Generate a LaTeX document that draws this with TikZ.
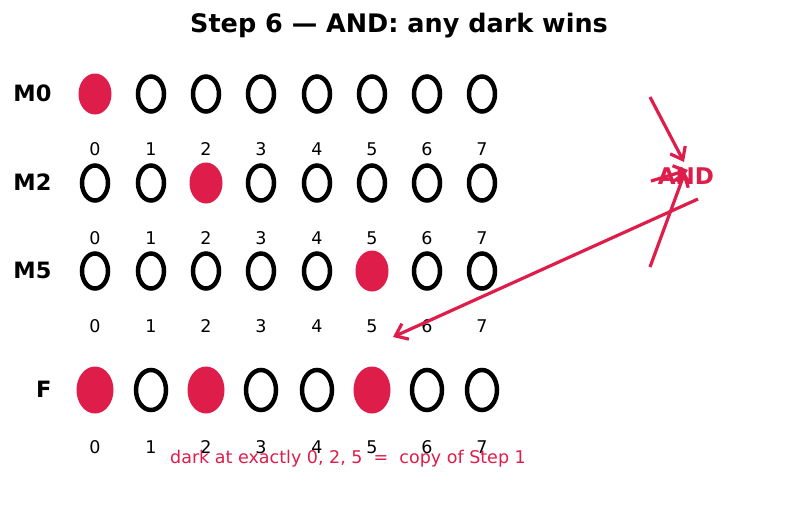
\documentclass[tikz,border=0pt]{standalone}
\usepackage{fontspec}
\setmainfont{DejaVu Sans}
\usetikzlibrary{arrows.meta,shapes.geometric}
\definecolor{crim}{RGB}{222,29,74}
\begin{document}
\begin{tikzpicture}[x=1pt,y=-1pt,
  dot/.style={ellipse,draw=black,line width=4.5pt,minimum width=26pt,minimum height=35pt,inner sep=0pt},
  dotfill/.style={ellipse,fill=crim,minimum width=33pt,minimum height=41pt,inner sep=0pt},
  bdotfill/.style={ellipse,fill=crim,minimum width=37pt,minimum height=47pt,inner sep=0pt},
  num/.style={font=\fontsize{17.5}{20}\selectfont},
  rowlab/.style={font=\bfseries\fontsize{22.5}{26}\selectfont,anchor=east},
  arr/.style={draw=crim,line width=3.2pt,-{Straight Barb[length=11pt,width=17pt,line width=3.2pt]}}]
\useasboundingbox (0,0) rectangle (792,512);
\node[font=\bfseries\fontsize{25.5}{30}\selectfont] (title) at (399,26) {Step 6 — AND: any dark wins};
% rows
\foreach \r/\y/\d/\lab in {0/94/0/M0,1/183/2/M2,2/271/5/M5}{
  \node[rowlab] (lab\r) at (55,\y-1) {\lab};
  \foreach \i/\x in {0/95,1/151,2/206,3/261,4/317,5/372,6/427,7/482}{
    \ifnum\i=\d
      \node[dotfill] (d\r\i) at (\x,\y) {};
    \else
      \node[dot] (d\r\i) at (\x,\y) {};
    \fi
    \node[num] (n\r\i) at (\x,\y+55) {\i};
  }
}
\node[rowlab] (lab3) at (55,389) {F};
\foreach \i/\x in {0/95,1/151,2/206,3/261,4/317,5/372,6/427,7/482}{
  \ifnum\i=0 \node[bdotfill] (d3\i) at (\x,390) {};
  \else\ifnum\i=2 \node[bdotfill] (d3\i) at (\x,390) {};
  \else\ifnum\i=5 \node[bdotfill] (d3\i) at (\x,390) {};
  \else \node[dot,minimum width=30pt,minimum height=40pt] (d3\i) at (\x,390) {};
  \fi\fi\fi
  \node[num] (n3\i) at (\x,447) {\i};
}
\node[font=\fontsize{17.5}{20}\selectfont,text=crim] (note) at (348,459) {dark at exactly 0, 2, 5 \ =\ \ copy of Step 1};
% AND
\node[font=\bfseries\fontsize{23}{26}\selectfont,text=crim] (and) at (686,176) {AND};
\coordinate (s0) at (650,97);
\coordinate (e0) at (684,162);
\coordinate (s1) at (651,181);
\coordinate (e1) at (688,170);
\coordinate (s2) at (650,267);
\coordinate (e2) at (685,172);
\coordinate (s3) at (698,199);
\coordinate (e3) at (393,337);
\draw[arr] (s0) -- (e0);
\draw[arr] (s1) -- (e1);
\draw[arr] (s2) -- (e2);
\draw[arr] (s3) -- (e3);
\end{tikzpicture}
\end{document}
